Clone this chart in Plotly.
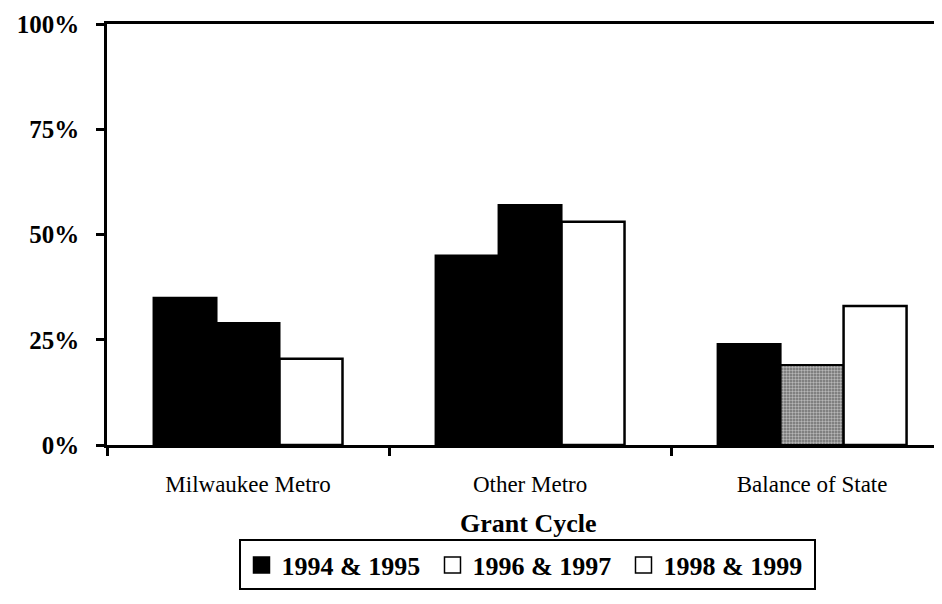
import plotly.graph_objects as go

categories = ["Milwaukee Metro", "Other Metro", "Balance of State"]
series_names = ["1994 & 1995", "1996 & 1997", "1998 & 1999"]
vals_9495 = [35, 45, 24]
vals_9697 = [29, 57, 19]
vals_9899 = [20.5, 53, 33]
y_tick_vals = [0, 25, 50, 75, 100]
y_tick_text = ["0%", "25%", "50%", "75%", "100%"]

FONT = "Liberation Serif"
fig = go.Figure()

fig.add_trace(go.Bar(x=categories, y=vals_9495, name=series_names[0], showlegend=False,
                     marker=dict(color="black", line=dict(color="black", width=2))))
fig.add_trace(go.Bar(x=categories, y=vals_9697, name=series_names[1], showlegend=False,
                     marker=dict(color=["black", "black", "#6e6e6e"],
                                 line=dict(color="black", width=2),
                                 pattern=dict(shape=["", "", "."], fgcolor="#111111",
                                              size=3, solidity=0.5))))
fig.add_trace(go.Bar(x=categories, y=vals_9899, name=series_names[2], showlegend=False,
                     marker=dict(color="white", line=dict(color="black", width=2.5))))

# legend entries
leg_fill = ["black", "white", "white"]
for name, fc in zip(series_names, leg_fill):
    fig.add_trace(go.Scatter(x=[None], y=[None], mode="markers", name=name,
                             marker=dict(symbol="square", size=17, color=fc,
                                         line=dict(color="black", width=1.5))))

fig.update_layout(
    width=942, height=604,
    margin=dict(l=99, r=0, t=16, b=167),
    paper_bgcolor="white", plot_bgcolor="white",
    barmode="group", bargap=0.33, bargroupgap=0,
    font=dict(family=FONT, color="black"),
    showlegend=True,
    legend=dict(orientation="h", x=0.4994, xanchor="center", y=-0.285, yanchor="middle",
                bordercolor="black", borderwidth=2, bgcolor="white",
                font=dict(family=FONT, size=26, color="black", weight="bold"),
                itemwidth=30, entrywidth=146, tracegroupgap=0),
    annotations=[dict(text="<b>Grant Cycle</b>", xref="paper", yref="paper",
                      x=0.4994, y=-0.1876, xanchor="center", yanchor="middle",
                      showarrow=False, font=dict(family=FONT, size=26, color="black"))],
)

fig.update_xaxes(
    type="category", range=[-0.5, 2.489], automargin=False,
    showline=True, linecolor="black", linewidth=2.5, mirror=True,
    ticks="outside", tickson="boundaries", ticklen=8, tickwidth=2.5, tickcolor="black",
    tickfont=dict(family=FONT, size=23, color="black"),
    ticklabelstandoff=17,
    showgrid=False, zeroline=False,
)
fig.update_yaxes(
    range=[0, 100], tickvals=y_tick_vals, ticktext=y_tick_text, automargin=False,
    ticklabeloverflow="allow",
    showline=True, linecolor="black", linewidth=2.5,
    ticks="outside", ticklen=8, tickwidth=2.5, tickcolor="black",
    tickfont=dict(family=FONT, size=25, color="black", weight="bold"),
    ticklabelstandoff=12,
    showgrid=False, zeroline=False,
)

fig.write_html("out.html")
